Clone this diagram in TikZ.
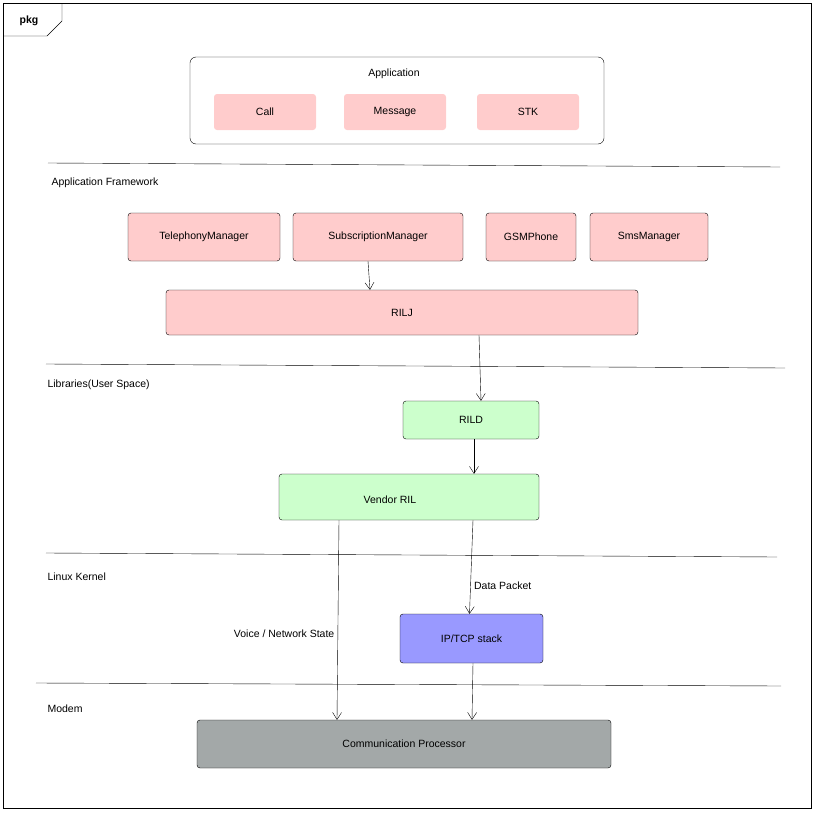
\documentclass[tikz,border=0pt]{standalone}
\usepackage{fontspec}
\setmainfont{Liberation Sans}
\usetikzlibrary{arrows.meta}
\definecolor{pinkfill}{HTML}{FFCCCC}
\definecolor{greenfill}{HTML}{CCFFCC}
\definecolor{bluefill}{HTML}{9999FF}
\definecolor{grayfill}{HTML}{A3A8A8}
\tikzset{
  box/.style={draw,rounded corners=3pt,inner sep=0pt,font=\fontsize{10.5}{12}\selectfont},
  appbox/.style={fill=pinkfill,rounded corners=3pt,inner sep=0pt,font=\fontsize{10.5}{12}\selectfont,minimum width=102pt,minimum height=36pt},
  layer/.style={anchor=west,font=\fontsize{10.5}{12}\selectfont},
  flow/.style={-{Straight Barb[length=7pt,width=9pt]}},
}
\begin{document}
\begin{tikzpicture}[x=1pt,y=-1pt]
\useasboundingbox (0,0) rectangle (815,814);
% frame and tab
\draw (3,3) rectangle (811,808);
\draw (3,36)--(47,36)--(62,21)--(62,3);
\node[font=\bfseries\fontsize{10.5}{12}\selectfont] at (29,21) {pkg};
% application
\draw[rounded corners=6pt] (190,57) rectangle (604,144);
\node[font=\fontsize{10.5}{12}\selectfont] at (394,74) {Application};
\node[appbox] (call) at (265,112) {Call};
\node[appbox] (msg) at (395,112) {Message};
\node[appbox] (stk) at (528,112) {STK};
% framework
\draw (48,163)--(780,167);
\node[layer] at (48,183) {Application Framework};
\node[box,fill=pinkfill,minimum width=152pt,minimum height=48pt] (tel) at (204,237) {TelephonyManager};
\node[box,fill=pinkfill,minimum width=170pt,minimum height=48pt] (subm) at (378,237) {SubscriptionManager};
\node[box,fill=pinkfill,minimum width=90pt,minimum height=48pt] (gsm) at (531,237) {GSMPhone};
\node[box,fill=pinkfill,minimum width=118pt,minimum height=48pt] (sms) at (649,237) {SmsManager};
\node[box,fill=pinkfill,minimum width=472pt,minimum height=45pt] (rilj) at (402,312.5) {RILJ};
\draw[flow] ([xshift=-10pt]subm.south)--([xshift=-32pt]rilj.north);
% libraries
\draw (46,364)--(785,368);
\node[layer] at (44,385) {Libraries(User Space)};
\node[box,fill=greenfill,minimum width=136pt,minimum height=38pt] (rild) at (471,420) {RILD};
\node[box,fill=greenfill,minimum width=260pt,minimum height=46pt] (vendor) at (409,497) {};
\node[font=\fontsize{10.5}{12}\selectfont] at (390,500) {Vendor RIL};
\draw[flow] ([xshift=77pt]rilj.south)--([xshift=10pt]rild.north);
\draw[flow] ([xshift=3pt]rild.south)--([xshift=65pt]vendor.north);
% kernel
\draw (46,553)--(777,557);
\node[layer] at (44,577) {Linux Kernel};
\node[box,fill=bluefill,minimum width=143pt,minimum height=49pt] (iptcp) at (471.5,638.5) {IP/TCP stack};
\draw[flow] ([xshift=64pt]vendor.south)--node[right,pos=0.7,font=\fontsize{10.5}{12}\selectfont]{Data Packet}([xshift=-2pt]iptcp.north);
% modem
\draw (36,683)--(781,686);
\node[layer] at (44,709) {Modem};
\node[box,fill=grayfill,minimum width=414pt,minimum height=48pt] (cp) at (404,744) {Communication Processor};
\draw[flow] ([xshift=-70pt]vendor.south)--node[left,pos=0.57,font=\fontsize{10.5}{12}\selectfont]{Voice / Network State}([xshift=-67pt]cp.north);
\draw[flow] ([xshift=1.5pt]iptcp.south)--([xshift=68pt]cp.north);
\end{tikzpicture}
\end{document}
